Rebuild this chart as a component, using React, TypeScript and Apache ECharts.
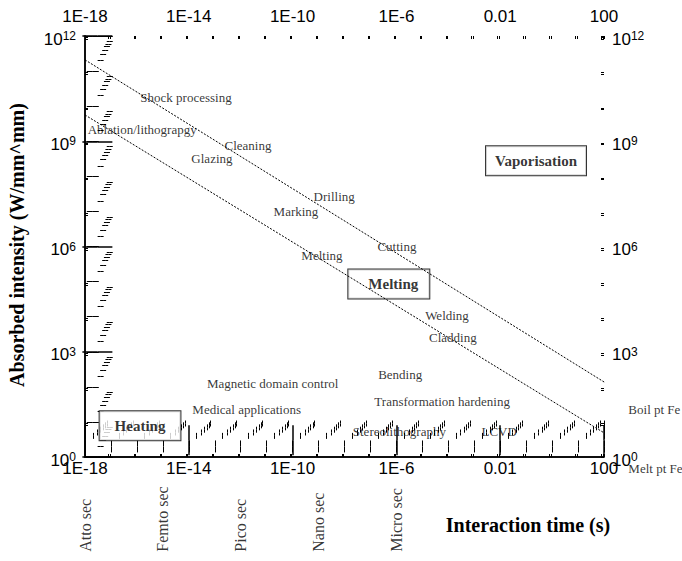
import { useEffect, useRef } from 'react';
import * as echarts from 'echarts';

// ---- Axis ticks / labels ----
const xTickValues = [1e-18, 1e-14, 1e-10, 1e-6, 1e-2, 100];
const xTickLabels = ['1E-18', '1E-14', '1E-10', '1E-6', '0.01', '100'];
const yTickValues = [1, 1e3, 1e6, 1e9, 1e12];
const yTickExponents = ['0', '3', '6', '9', '12'];
const minorMultipliers = [2, 3, 4, 5, 6, 7, 8, 9];

// ---- Threshold lines (interaction time s, intensity W/mm^2) ----
const boilLine = [
  [1e-18, 2.09e11],
  [1e5, 5.79],
];
const meltLine = [
  [1e-18, 5.62e9],
  [1e5, 0.214],
];

// ---- Process annotations ----
const processNames = [
  'Shock processing',
  'Ablation/lithograpgy',
  'Cleaning',
  'Glazing',
  'Drilling',
  'Marking',
  'Melting',
  'Cutting',
  'Welding',
  'Cladding',
  'Bending',
  'Transformation hardening',
  'Stereolithography',
  'LCVD',
  'Magnetic domain control',
  'Medical applications',
];
const processX = [7.8e-15, 1.6e-16, 1.9e-12, 7.8e-14, 4.0e-9, 1.35e-10, 1.35e-9, 1.05e-6, 8.9e-5, 1.5e-4, 1.4e-6, 5.8e-5, 1.3e-6, 9.1e-3, 1.7e-11, 1.7e-12];
const processY = [1.8e10, 2.1e9, 7.4e8, 3.2e8, 2.6e7, 9.8e6, 5.4e5, 9.8e5, 1.1e4, 2.5e3, 220, 37, 5.3, 5.3, 123, 23];

// ---- Region boxes ----
const regionNames = ['Heating', 'Melting', 'Vaporisation'];
const regionX = [1.32e-16, 5.1e-7, 0.24];
const regionY = [7.8, 8.5e4, 2.8e8];

// ---- Line labels ----
const lineLabelNames = ['Boil pt Fe', 'Melt pt Fe'];
const lineLabelX = [830, 830];
const lineLabelY = [22, 0.46];

// ---- Time-scale names ----
const timeScaleNames = ['Atto sec', 'Femto sec', 'Pico sec', 'Nano sec', 'Micro sec'];
const timeScaleX = [1e-18, 1e-15, 1e-12, 1e-9, 1e-6];
const timeScaleY = 2.0e-3;

const SERIF = '"Liberation Serif", "Times New Roman", serif';
const SANS = '"Liberation Sans", Arial, sans-serif';

const X_MIN = 1e-18;
const X_MAX = 100;
const Y_MIN = 1;
const Y_MAX = 1e12;
const X_DECADES = 20; // 1e-18 .. 1e2
const Y_DECADES = 12; // 1e0 .. 1e12
const X_LABEL_STEP = 4; // decades between labelled ticks
const Y_LABEL_STEP = 3;

function nearestIdx(vals: number[], v: number) {
  let best = 0;
  let bd = Infinity;
  vals.forEach((t, i) => {
    const d = Math.abs(Math.log10(t) - Math.log10(v));
    if (d < bd) {
      bd = d;
      best = i;
    }
  });
  return best;
}

function logXAxis(position: string, margin: number) {
  return {
    type: 'log',
    min: X_MIN,
    max: X_MAX,
    position,
    splitLine: { show: false },
    axisLine: { show: true, lineStyle: { color: '#000', width: 1.5 } },
    axisTick: { show: false },
    axisLabel: {
      show: true,
      customValues: xTickValues,
      margin,
      color: '#000',
      fontSize: 17,
      lineHeight: 14,
      fontFamily: SANS,
      formatter: (v: number) => xTickLabels[nearestIdx(xTickValues, v)],
    },
  };
}
function logYAxis(position: string, margin: number) {
  return {
    type: 'log',
    min: Y_MIN,
    max: Y_MAX,
    position,
    splitLine: { show: false },
    axisLine: { show: true, lineStyle: { color: '#000', width: 1.5 } },
    axisTick: { show: false },
    axisLabel: {
      show: true,
      customValues: yTickValues,
      margin,
      color: '#000',
      formatter: (v: number) => `{b|10}{s|${yTickExponents[nearestIdx(yTickValues, v)]}}`,
      rich: {
        b: { fontSize: 17, lineHeight: 12, fontFamily: SANS, color: '#000', padding: [6, 0, 0, 0] },
        s: { fontSize: 12, lineHeight: 10, fontFamily: SANS, color: '#000', verticalAlign: 'top' },
      },
    },
  };
}

// Tick-only value axes laid over the same grid (in decade units), so that the
// axes' own tick renderer draws the decade, labelled and 2..9 minor ticks.
function tickOnlyAxis(position: string, min: number, max: number, len: number, width: number, extra: any) {
  return {
    type: 'value',
    position,
    min,
    max,
    ...extra,
    silent: true,
    axisLine: { show: false },
    axisLabel: { show: false },
    splitLine: { show: false },
    axisTick: { show: true, inside: true, length: len, lineStyle: { color: '#000', width } },
  };
}
function tickAxesFor(position: string, decadesCount: number, labelStep: number) {
  const axes: any[] = [];
  // every decade
  axes.push(tickOnlyAxis(position, 0, decadesCount, 6, 1, { interval: 1 }));
  // labelled decades (long ticks)
  axes.push(tickOnlyAxis(position, 0, decadesCount / labelStep, 15, 1.5, { interval: 1 }));
  // minor ticks at 2..9 x 10^k: shift the axis so its integer ticks fall at k + log10(m)
  minorMultipliers.forEach((m) => {
    const s = Math.log10(m);
    axes.push(tickOnlyAxis(position, -s, decadesCount - s, 3, 1, { splitNumber: decadesCount }));
  });
  return axes;
}

export default function App() {
  const ref = useRef<HTMLDivElement>(null);
  useEffect(() => {
    if (!ref.current) return;
    const chart = echarts.init(ref.current, undefined, { renderer: 'svg' });

    const hidden = { color: 'rgba(0,0,0,0)' };
    const textLabel = { show: true, color: '#000', fontFamily: SERIF, fontSize: 13, formatter: '{b}' };
    const lineStyle = { color: '#000', width: 1, type: [2, 1.5] as any };

    const regionPadding = [
      [7, 15, 7, 15],
      [7, 11, 7, 20],
      [7, 9, 7, 9],
    ];

    const xAxes = [
      logXAxis('bottom', 4),
      logXAxis('top', 13),
      ...tickAxesFor('bottom', X_DECADES, X_LABEL_STEP),
      ...tickAxesFor('top', X_DECADES, X_LABEL_STEP),
    ];
    const yAxes = [
      logYAxis('left', 9),
      logYAxis('right', 8),
      ...tickAxesFor('left', Y_DECADES, Y_LABEL_STEP),
      ...tickAxesFor('right', Y_DECADES, Y_LABEL_STEP),
    ];

    chart.setOption({
      animation: false,
      backgroundColor: '#fff',
      grid: { left: 85, right: 78, top: 36, bottom: 104 },
      xAxis: xAxes,
      yAxis: yAxes,
      graphic: [
        {
          type: 'text',
          x: 528,
          y: 525,
          style: {
            text: 'Interaction time (s)',
            font: `bold 20px ${SERIF}`,
            fill: '#000',
            textAlign: 'center',
            textVerticalAlign: 'middle',
          },
        },
        {
          type: 'text',
          x: 17,
          y: 245,
          rotation: Math.PI / 2,
          style: {
            text: 'Absorbed intensity (W/mm^mm)',
            font: `bold 20px ${SERIF}`,
            fill: '#000',
            textAlign: 'center',
            textVerticalAlign: 'middle',
          },
        },
      ],
      series: [
        { type: 'line', data: boilLine, symbol: 'none', clip: false, lineStyle },
        { type: 'line', data: meltLine, symbol: 'none', clip: false, lineStyle },
        {
          type: 'scatter',
          symbolSize: 1,
          clip: false,
          itemStyle: hidden,
          label: { ...textLabel, position: 'inside' },
          data: processNames.map((n, i) => ({ name: n, value: [processX[i], processY[i]] })),
        },
        {
          type: 'scatter',
          symbolSize: 1,
          clip: false,
          itemStyle: hidden,
          label: { ...textLabel, position: 'right', distance: 0 },
          data: lineLabelNames.map((n, i) => ({ name: n, value: [lineLabelX[i], lineLabelY[i]] })),
        },
        {
          type: 'scatter',
          symbolSize: 1,
          clip: false,
          itemStyle: hidden,
          label: {
            ...textLabel,
            fontSize: 16,
            position: 'inside',
            rotate: 90,
            align: 'left',
            verticalAlign: 'middle',
          },
          data: timeScaleNames.map((n, i) => ({ name: n, value: [timeScaleX[i], timeScaleY] })),
        },
        {
          type: 'scatter',
          symbolSize: 1,
          clip: false,
          itemStyle: hidden,
          label: {
            ...textLabel,
            position: 'inside',
            fontSize: 15,
            fontWeight: 'bold',
            backgroundColor: '#fff',
            borderColor: '#000',
            borderWidth: 1,
          },
          data: regionNames.map((n, i) => ({
            name: n,
            value: [regionX[i], regionY[i]],
            label: { padding: regionPadding[i] },
          })),
        },
      ],
    });
    return () => chart.dispose();
  }, []);
  return <div ref={ref} style={{ position: 'fixed', left: 0, top: 0, width: 682, height: 561 }} />;
}
